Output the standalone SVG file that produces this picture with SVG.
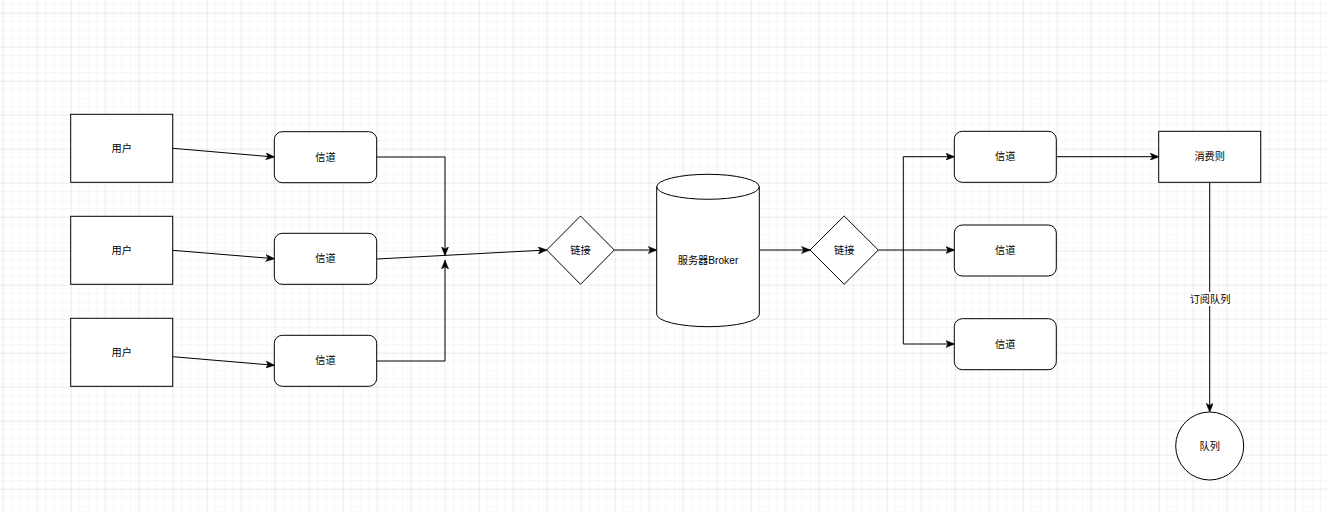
<svg xmlns="http://www.w3.org/2000/svg" width="1327" height="512" viewBox="0 0 1327 512">
<style>
.n{fill:#fff;stroke:#000;stroke-width:1}
.t{font-family:"Liberation Sans","Noto Sans CJK SC",sans-serif;font-size:10.2px;fill:#000;text-anchor:middle;dominant-baseline:central}
.e{fill:none;stroke:#000;stroke-width:1}
.a{marker-end:url(#arr)}
</style>
<defs>
<pattern id="minor" width="8.5" height="8.5" patternUnits="userSpaceOnUse" x="2.7" y="12.7">
<path d="M0 0V8.5M0 0H8.5" fill="none" stroke="#f0f0f0" stroke-width="1"/>
</pattern>
<pattern id="major" width="34" height="34" patternUnits="userSpaceOnUse" x="2.7" y="12.7">
<path d="M0 0V34M0 0H34" fill="none" stroke="#e0e0e0" stroke-width="1"/>
</pattern>
<marker id="arr" viewBox="0 0 10 8" refX="9.5" refY="4" markerWidth="9" markerHeight="7.2" markerUnits="userSpaceOnUse" orient="auto">
<path d="M0 0L10 4L0 8L2.5 4Z" fill="#000" stroke="#000" stroke-width="0.5"/>
</marker>
</defs>
<rect width="1327" height="512" fill="#fff"/>
<rect width="1327" height="512" fill="url(#minor)"/>
<rect width="1327" height="512" fill="url(#major)"/>

<g id="edges">
<path class="e a" d="M172.7 148.3L274.3 157"/>
<path class="e a" d="M172.7 250.3L274.3 258.7"/>
<path class="e a" d="M172.7 356.7L274.3 365.3"/>
<path class="e a" d="M376.7 157H445V255.3"/>
<path class="e a" d="M376.7 361H445V260.5"/>
<path class="e a" d="M376.7 259L546.7 250"/>
<path class="e a" d="M614.3 250H656.7"/>
<path class="e a" d="M759.3 250H810"/>
<path class="e a" d="M878.3 250H954.3"/>
<path class="e a" d="M903.3 250V156.7H954.3"/>
<path class="e a" d="M903.3 250V344H954.3"/>
<path class="e a" d="M1056.3 156.7H1158.7"/>
<path class="e a" d="M1209.7 182.3V411.7"/>
<rect x="1190" y="292" width="40" height="14" fill="#fff"/>
<text class="t" x="1210" y="299">订阅队列</text>
</g>

<g id="user1"><rect class="n" x="70.7" y="114.3" width="102" height="68"/><text class="t" x="121.7" y="148.3">用户</text></g>
<g id="user2"><rect class="n" x="70.7" y="216.3" width="102" height="68"/><text class="t" x="121.7" y="250.3">用户</text></g>
<g id="user3"><rect class="n" x="70.7" y="318.3" width="102" height="68"/><text class="t" x="121.7" y="352.3">用户</text></g>

<g id="ch1"><rect class="n" x="274.3" y="131.7" width="102.4" height="51" rx="8" ry="8"/><text class="t" x="325.5" y="157.2">信道</text></g>
<g id="ch2"><rect class="n" x="274.3" y="233.3" width="102.4" height="51" rx="8" ry="8"/><text class="t" x="325.5" y="258.8">信道</text></g>
<g id="ch3"><rect class="n" x="274.3" y="335.3" width="102.4" height="51" rx="8" ry="8"/><text class="t" x="325.5" y="360.8">信道</text></g>

<g id="link1"><path class="n" d="M580.5 216L614.3 250L580.5 284.3L546.7 250Z"/><text class="t" x="580.5" y="250">链接</text></g>

<g id="broker">
<path class="n" d="M656.7 186.8V314.2A51.3 12.5 0 0 0 759.3 314.2V186.8A51.3 12.5 0 0 0 656.7 186.8Z"/>
<path class="e" d="M656.7 186.8A51.3 12.5 0 0 0 759.3 186.8"/>
<text class="t" x="708" y="260">服务器Broker</text>
</g>

<g id="link2"><path class="n" d="M844.2 216L878.3 250L844.2 284.3L810 250Z"/><text class="t" x="844.2" y="250">链接</text></g>

<g id="ch4"><rect class="n" x="954.3" y="131.3" width="102" height="51" rx="8" ry="8"/><text class="t" x="1005.3" y="156.8">信道</text></g>
<g id="ch5"><rect class="n" x="954.3" y="225" width="102" height="51" rx="8" ry="8"/><text class="t" x="1005.3" y="250.5">信道</text></g>
<g id="ch6"><rect class="n" x="954.3" y="318.7" width="102" height="51" rx="8" ry="8"/><text class="t" x="1005.3" y="344.2">信道</text></g>

<g id="consumer"><rect class="n" x="1158.7" y="131.3" width="102" height="51"/><text class="t" x="1209.7" y="156.8">消费则</text></g>

<g id="queue"><circle class="n" cx="1209.7" cy="446" r="34"/><text class="t" x="1209.7" y="446">队列</text></g>
</svg>
